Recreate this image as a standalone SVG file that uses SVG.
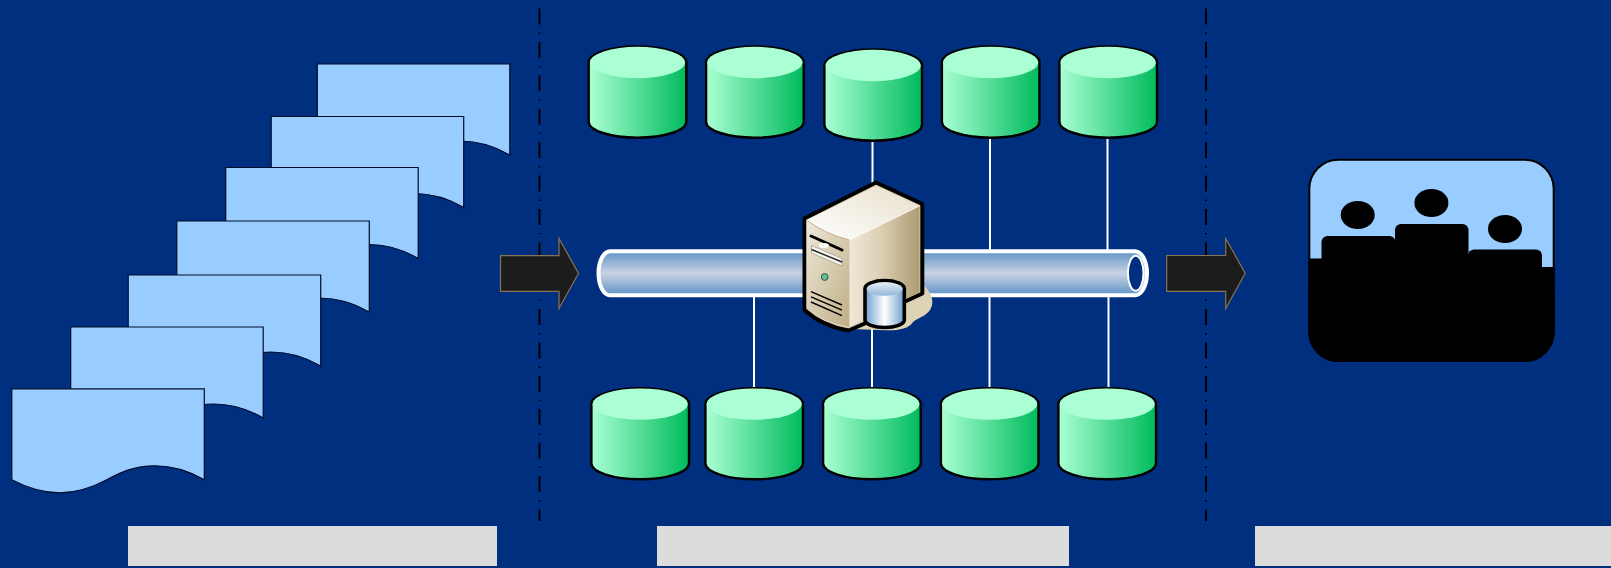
<svg xmlns="http://www.w3.org/2000/svg" width="1611" height="568" viewBox="0 0 1611 568">
<style>
.doc{fill:#99CCFF;stroke:#000d2a;stroke-width:1.2}
.arrow{fill:#1C1C1C;stroke:#8A7350;stroke-width:1.2}
.sep{stroke:#000;stroke-width:2;stroke-dasharray:16 8 1.4 8;fill:none}
.link{stroke:#fff;stroke-width:2;fill:none}
.band{fill:#DCDCDC}
</style>
<defs>
<linearGradient id="gCyl" x1="0" x2="1" y1="0" y2="0"><stop offset="0" stop-color="#AAFFD4"/><stop offset="1" stop-color="#00BB5C"/></linearGradient>
<linearGradient id="gPipe" x1="0" x2="0" y1="0" y2="1"><stop offset="0" stop-color="#5F93C6"/><stop offset="0.5" stop-color="#C8D2E3"/><stop offset="1" stop-color="#5F93C6"/></linearGradient>
<linearGradient id="gTop" x1="0" x2="1" y1="1" y2="0"><stop offset="0" stop-color="#FFFFFF"/><stop offset="1" stop-color="#E8DFCB"/></linearGradient>
<linearGradient id="gFront" x1="0" x2="1" y1="0" y2="1"><stop offset="0" stop-color="#EFE9DA"/><stop offset="1" stop-color="#BFAE85"/></linearGradient>
<linearGradient id="gSide" x1="0" x2="1" y1="0" y2="0"><stop offset="0" stop-color="#EFE8D8"/><stop offset="0.45" stop-color="#DCCFB2"/><stop offset="1" stop-color="#AD9C72"/></linearGradient>
<linearGradient id="gMini" x1="0" x2="1" y1="0" y2="0"><stop offset="0" stop-color="#6C9FCC"/><stop offset="0.5" stop-color="#FFFFFF"/><stop offset="1" stop-color="#6C9FCC"/></linearGradient>
<linearGradient id="gMiniTop" x1="0" x2="0" y1="0" y2="1"><stop offset="0" stop-color="#E6EEF6"/><stop offset="1" stop-color="#8FB6DA"/></linearGradient>
<g id="cyl">
<path d="M-0.6 15.8V75A48.800 16 0 0 0 97 75V15.8A48.800 16 0 0 0 -0.6 15.8Z" fill="url(#gCyl)" stroke="#000" stroke-width="2.400"/>
<ellipse cx="48.200" cy="15.800" rx="47.600" ry="15.700" fill="#AAFFD4"/>
</g>
<path id="docShape" d="M0 0H192.500V91C178 82.500 162 77 143 77C122 77 108 84 95 91C80 99 65 104 48 104C30 104 15 99 0 91Z"/>
<clipPath id="boxClip"><rect x="1308.5" y="159" width="246" height="203" rx="30"/></clipPath>
</defs>
<rect width="1611" height="568" fill="#002F7F"/>

<g id="bands">
<rect class="band" x="128" y="526" width="369" height="40"/>
<rect class="band" x="657" y="526" width="412" height="40"/>
<rect class="band" x="1255" y="526" width="356" height="40"/>
</g>

<g id="separators">
<line class="sep" x1="539.5" y1="8.500" x2="539.5" y2="521"/>
<line class="sep" x1="1206" y1="8.500" x2="1206" y2="521"/>
</g>

<g id="documents">
<use id="doc7" class="doc" href="#docShape" x="317.300" y="64"/>
<use id="doc6" class="doc" href="#docShape" x="271.200" y="116.500"/>
<use id="doc5" class="doc" href="#docShape" x="225.700" y="167.500"/>
<use id="doc4" class="doc" href="#docShape" x="176.800" y="221"/>
<use id="doc3" class="doc" href="#docShape" x="128.200" y="275"/>
<use id="doc2" class="doc" href="#docShape" x="70.700" y="327"/>
<use id="doc1" class="doc" href="#docShape" x="11.800" y="388.800"/>
</g>

<g id="connectors">
<line class="link" x1="872.500" y1="138" x2="872.500" y2="190"/>
<line class="link" x1="990" y1="136" x2="990" y2="250"/>
<line class="link" x1="1107.500" y1="136" x2="1107.500" y2="250"/>
<line class="link" x1="754" y1="296" x2="754" y2="388"/>
<line class="link" x1="872" y1="320" x2="872" y2="388"/>
<line class="link" x1="989.500" y1="296" x2="989.500" y2="388"/>
<line class="link" x1="1108.500" y1="296" x2="1108.500" y2="388"/>
</g>

<g id="db-top-1"><use href="#cyl" x="589.300" y="46.700"/></g>
<g id="db-top-2"><use href="#cyl" x="706.700" y="46.700"/></g>
<g id="db-top-3"><use href="#cyl" x="825" y="49.700"/></g>
<g id="db-top-4"><use href="#cyl" x="942.500" y="46.700"/></g>
<g id="db-top-5"><use href="#cyl" x="1060" y="46.700"/></g>
<g id="db-bottom-1"><use href="#cyl" x="592" y="388.300"/></g>
<g id="db-bottom-2"><use href="#cyl" x="706" y="388.300"/></g>
<g id="db-bottom-3"><use href="#cyl" x="823.700" y="388.300"/></g>
<g id="db-bottom-4"><use href="#cyl" x="941.500" y="388.300"/></g>
<g id="db-bottom-5"><use href="#cyl" x="1059" y="388.300"/></g>

<g id="pipe">
<path d="M610 251.300H1135A12 22 0 0 1 1135 295.300H610A11.500 22 0 0 1 610 251.300Z" fill="url(#gPipe)" stroke="#fff" stroke-width="4"/>
<ellipse cx="1135.700" cy="273.300" rx="7.800" ry="17.500" fill="#002F7F" stroke="#fff" stroke-width="2"/>
</g>

<g id="arrow-left"><path class="arrow" d="M500.500 255.700H559V238.500L578.500 273.300L559 308.500V291.300H500.500Z"/></g>
<g id="arrow-right"><path class="arrow" d="M1166.700 255.500H1225.700V238.500L1245.200 273.300L1225.700 308.500V291.300H1166.700Z"/></g>

<g id="server">
<path d="M922 284C932 292 935 302 930 310C926 316 918 318 913 322C908 330 895 331 880 330L850 329Z" fill="#DDD3B5"/>
<path d="M804.500 218.500L876 182.500L922.300 204V293.500L904 302L866 323L848.500 330.500Q822 326 804.500 310Z" fill="#DCCFB2" stroke="#000" stroke-width="4" stroke-linejoin="round"/>
<path d="M806.500 220L876 186L919.500 206L849.500 240Q825 234 806.500 220Z" fill="url(#gTop)"/>
<path d="M806.500 220Q825 234 849.500 240V327Q824 322 806.500 308Z" fill="url(#gFront)"/>
<path d="M849.500 240L919.500 206V292L849.500 327Z" fill="url(#gSide)"/>
<path d="M806.500 220Q825 234 849.500 240" fill="none" stroke="#BFA27A" stroke-width="0.800"/>
<path d="M849.500 240L919.500 206" fill="none" stroke="#fff" stroke-width="0.800"/>
<path d="M811.500 245.500L842 258.500V266L811.500 253Z" fill="#F7F5EF" stroke="#8a8a80" stroke-width="0.600"/>
<path d="M811 236L842 250" stroke="#000" stroke-width="3" stroke-linecap="round"/>
<path d="M811.500 249.500L842 262" stroke="#222" stroke-width="1.400"/>
<ellipse cx="824" cy="245.500" rx="5" ry="2.500" fill="#fff"/>
<circle cx="824.700" cy="277" r="3.400" fill="#66BB99" stroke="#2d5a48" stroke-width="1"/>
<path d="M811 291.700L842 305M811 296.900L842 310.200M811 302L842 315.700" stroke="#000" stroke-width="1.400" fill="none"/>
<path d="M865 288.500V320A19.600 7.500 0 0 0 904.300 320V288.500A19.600 8 0 0 0 865 288.500Z" fill="url(#gMini)" stroke="#000" stroke-width="3.600"/>
<ellipse cx="884.700" cy="289" rx="18" ry="6.800" fill="url(#gMiniTop)"/>
</g>

<g id="people">
<rect x="1309.300" y="159.700" width="244.400" height="201" rx="29" fill="#99CCFF" stroke="#000" stroke-width="2"/>
<g clip-path="url(#boxClip)">
<rect x="1300" y="258.500" width="30" height="110" fill="#000"/>
<rect x="1530" y="267" width="30" height="100" fill="#000"/>
<rect x="1321.500" y="236" width="74" height="130" rx="6" fill="#000"/>
<rect x="1395" y="224" width="73.500" height="140" rx="6" fill="#000"/>
<rect x="1468" y="249.500" width="74" height="120" rx="6" fill="#000"/>
<rect x="1300" y="290" width="260" height="80" fill="#000"/>
</g>
<ellipse cx="1357.700" cy="215" rx="17" ry="14" fill="#000"/>
<ellipse cx="1431.400" cy="203" rx="17" ry="14" fill="#000"/>
<ellipse cx="1505" cy="229" rx="17" ry="14" fill="#000"/>
</g>
</svg>
